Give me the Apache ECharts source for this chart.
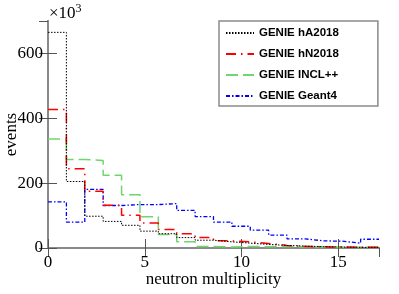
<!DOCTYPE html>
<html>
<head>
<meta charset="utf-8">
<script src="https://cdn.jsdelivr.net/npm/echarts@6/dist/echarts.min.js"></script>
<style>html,body{margin:0;padding:0;background:#fff;}#c{width:399px;height:294px;}</style>
</head>
<body>
<div id="c"></div>
<script>
// Histogram bin width (in neutron multiplicity units) and values (events, x10^3)
const binWidth = 0.95;
const seriesNames = ['GENIE hA2018', 'GENIE hN2018', 'GENIE INCL++', 'GENIE Geant4'];
const hA2018 = [665, 205, 98, 82, 70, 52, 44, 32, 24, 19, 15, 11, 8, 6, 4, 3, 2, 2];
const hN2018 = [427, 244, 175, 132, 101, 77, 57, 44, 32, 22, 19, 14, 8, 5, 4, 3, 2, 2];
const inclpp = [336, 273, 270, 224, 164, 96, 42, 19, 5, 3, 5, 4, 5, 3, 3, 2, 2, 2];
const geant4 = [142, 80, 181, 131, 134, 134, 137, 116, 97, 80, 67, 55, 40, 28, 22, 21, 15, 27];
const xTicks = [0, 5, 10, 15];
const yTicks = [0, 200, 400, 600];

function stepData(vals) {
  const pts = vals.map((v, i) => [i * binWidth, v]);
  pts.push([vals.length * binWidth, vals[vals.length - 1]]);
  return pts;
}

const serif = '"Liberation Serif", "DejaVu Serif", serif';
const frameColor = '#8a8a8a';

const chart = echarts.init(document.getElementById('c'), null, {renderer: 'canvas'});

const axisCommon = {
  splitLine: {show: false},
  axisLine: {show: true, lineStyle: {color: frameColor, width: 2}},
  axisTick: {show: true, inside: true, length: 9, lineStyle: {color: '#555', width: 1}},
};

const styles = [
  {color: '#000000', type: [1.5, 1.5], width: 1},
  {color: '#ff0000', type: [10, 5, 1.5, 5], width: 1.5},
  {color: '#6fd66f', type: [12, 5], width: 1.5},
  {color: '#0000ff', type: [4, 2, 1.5, 2], width: 1.3},
];
const dataSets = [hA2018, hN2018, inclpp, geant4];

chart.setOption({
  animation: false,
  backgroundColor: '#ffffff',
  grid: {left: 48, right: 20, top: 21, bottom: 46, containLabel: false, outerBoundsMode: 'none'},
  xAxis: [
    Object.assign({}, axisCommon, {
      type: 'value', position: 'bottom', min: 0, max: 17.1, interval: 5,
      name: 'neutron multiplicity', nameLocation: 'middle', nameGap: 23, nameMoveOverlap: false,
      nameTextStyle: {fontFamily: serif, fontSize: 17, color: '#000'},
      axisLabel: {fontFamily: serif, fontSize: 17, color: '#000', margin: 6, showMaxLabel: false,
        formatter: v => xTicks.includes(v) ? String(v) : ''}
    }),
    Object.assign({}, axisCommon, {
      type: 'value', position: 'top', min: 0, max: 17.1, interval: 5,
      axisLabel: {show: false}
    })
  ],
  yAxis: [
    Object.assign({}, axisCommon, {
      type: 'value', position: 'left', min: 0, max: 700, interval: 200,
      name: 'events', nameLocation: 'middle', nameGap: 28, nameMoveOverlap: false,
      nameTextStyle: {fontFamily: serif, fontSize: 17, color: '#000'},
      axisLabel: {fontFamily: serif, fontSize: 17, color: '#000', margin: 5, showMaxLabel: false,
        formatter: v => yTicks.includes(v) ? String(v) : ''}
    }),
    Object.assign({}, axisCommon, {
      type: 'value', position: 'right', min: 0, max: 700, interval: 200,
      axisLabel: {show: false}
    })
  ],
  legend: {
    orient: 'vertical', left: 219, top: 21,
    data: seriesNames,
    itemWidth: 28, itemHeight: 14, itemGap: 9,
    padding: [6, 39, 4, 6],
    itemStyle: {opacity: 0},
    backgroundColor: '#fff', borderColor: frameColor, borderWidth: 1.5, borderRadius: 0,
    textStyle: {fontFamily: '"Liberation Sans", Arial, sans-serif', fontWeight: 'bold', fontSize: 11.5, color: '#000'}
  },
  graphic: [{
    type: 'text', left: 49, top: 3,
    style: {
      text: '{a|×10}{b|3}',
      rich: {
        a: {fontFamily: serif, fontSize: 17, fill: '#000'},
        b: {fontFamily: serif, fontSize: 12, fill: '#000', padding: [0, 0, 9, 0]}
      }
    }
  }],
  series: dataSets.map((vals, i) => ({
    name: seriesNames[i], type: 'line', step: 'end', symbol: 'none',
    xAxisIndex: 0, yAxisIndex: 0,
    data: stepData(vals),
    lineStyle: styles[i], itemStyle: {color: styles[i].color},
    z: 2 + (3 - i)
  }))
});
</script>
</body>
</html>
